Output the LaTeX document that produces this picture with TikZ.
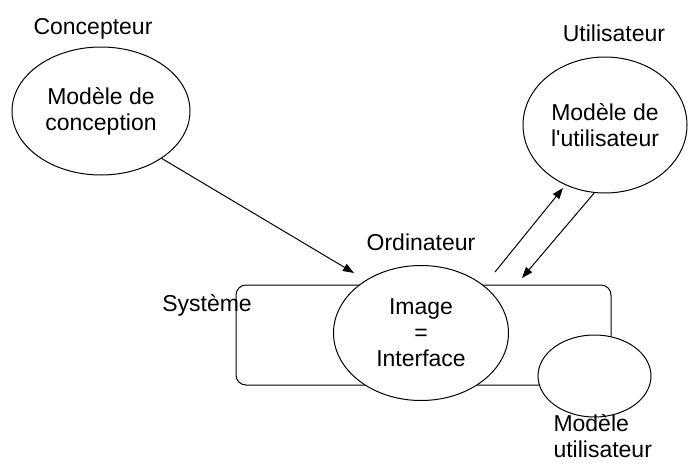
\documentclass[tikz,border=0pt]{standalone}
\usepackage{fontspec}
\setmainfont{Liberation Sans}[Ligatures=TeXOff]
\usetikzlibrary{shapes.geometric, arrows.meta}
\tikzstyle{ell}=[draw, ellipse, fill=white, inner sep=0, align=center]
\tikzstyle{lbl}=[inner sep=0, align=left]
\tikzstyle{arr}=[-{Triangle[length=11pt,width=8pt]}]

\begin{document}
\begin{tikzpicture}[x=1pt, y=-1pt, line width=1pt, font=\fontsize{23}{26}\selectfont]
\useasboundingbox (0,0) rectangle (688,463);
\draw[rounded corners=10pt] (236,285) rectangle (611,385);
\node[ell, minimum width=178pt, minimum height=128pt] (concep) at (101,111) {Mod\`ele de\\conception};
\node[ell, minimum width=164pt, minimum height=136pt] (util) at (605,125) {Mod\`ele de\\l'utilisateur};
\node[ell, minimum width=175pt, minimum height=135pt] (image) at (421,333) {Image\\=\\Interface};
\node[ell, minimum width=113pt, minimum height=82pt] (modu) at (594.5,376) {};
\node[lbl] (tconcep) at (93,29) {Concepteur};
\node[lbl] (tutil) at (614,33) {Utilisateur};
\node[lbl] (tordi) at (421,242) {Ordinateur};
\node[lbl] (tsys) at (207,305) {Syst\`eme};
\node[lbl, anchor=north west] (tmodu) at (553,414) {Mod\`ele\\utilisateur};
\coordinate (c1) at (354,273);
\coordinate (u1) at (495,272);
\coordinate (u2) at (563,188);
\coordinate (d1) at (522,278);
\draw[arr] (concep.-38) -- (c1);
\draw[arr] (u1) -- (u2);
\draw[arr] (util.-99) -- (d1);
\end{tikzpicture}
\end{document}
